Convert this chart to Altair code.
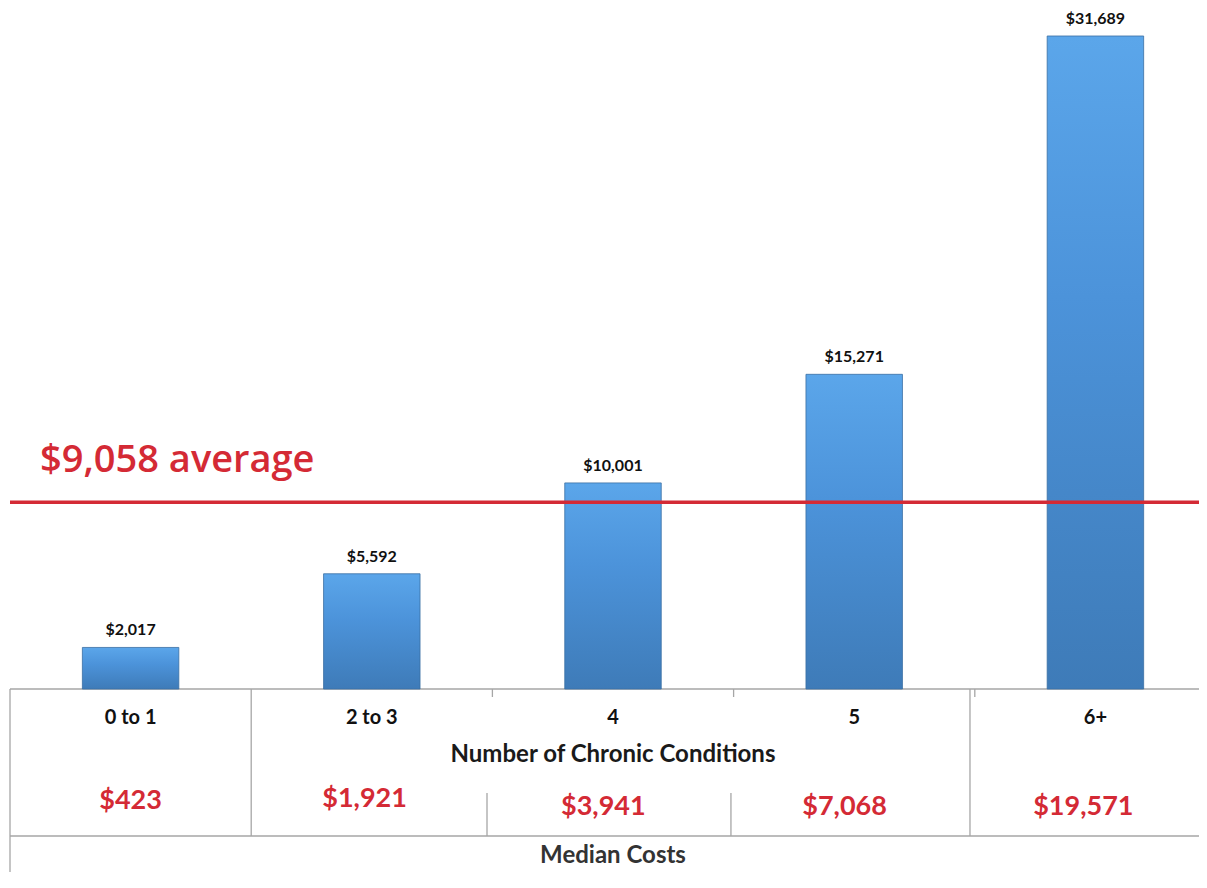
import altair as alt
import pandas as pd

# ---- data ----
categories = ["0 to 1", "2 to 3", "4", "5", "6+"]
mean_costs = [2017, 5592, 10001, 15271, 31689]
median_costs = [423, 1921, 3941, 7068, 19571]
average_cost = 9058
x_title = "Number of Chronic Conditions"
row_title = "Median Costs"
average_label = "$9,058 average"

# ---- layout / style ----
W, H = 1191, 864
RED = "#d42a35"
GRID = "#a6a6a6"
FONT = "Lato"
median_dx = [0.0, -0.03, -0.04, -0.04, -0.05]
median_y = [793, 791, 799, 799, 799]

df = pd.DataFrame({
    "idx": list(range(len(categories))),
    "cat": categories,
    "cost": mean_costs,
    "median": median_costs,
})
df["cost_label"] = ["$" + f"{v:,}" for v in mean_costs]
df["median_label"] = ["$" + f"{v:,}" for v in median_costs]
df["mx"] = [i + d for i, d in zip(df["idx"], median_dx)]
df["my"] = median_y

xscale = alt.Scale(domain=[-0.5083, 4.4295], nice=False, zero=False)
yscale = alt.Scale(domain=[-8880, 33047], nice=False, zero=False)

base = alt.Chart(df)

grad = alt.Gradient(
    gradient="linear",
    stops=[alt.GradientStop(color="#5ba6ea", offset=0),
           alt.GradientStop(color="#4c93da", offset=0.4),
           alt.GradientStop(color="#3e7bb8", offset=1)],
    x1=0, x2=0, y1=0, y2=1,
)

bars = base.transform_calculate(
    x0="datum.idx - 0.2", x1="datum.idx + 0.2", zero="0"
).mark_bar(color=grad, stroke="#3a6ea3", strokeWidth=0.8).encode(
    x=alt.X("x0:Q", scale=xscale, axis=None),
    x2="x1:Q",
    y=alt.Y("cost:Q", scale=yscale, axis=None),
    y2="zero:Q",
)

bar_labels = base.mark_text(
    baseline="alphabetic", dy=-12, fontSize=16, fontWeight="bold", font=FONT, color="#111111"
).encode(
    x=alt.X("idx:Q", scale=xscale, axis=None),
    y=alt.Y("cost:Q", scale=yscale, axis=None),
    text="cost_label:N",
)

cat_labels = base.mark_text(
    baseline="middle", fontSize=20, fontWeight="bold", font=FONT, color="#111111"
).encode(
    x=alt.X("idx:Q", scale=xscale, axis=None),
    y=alt.value(710),
    text="cat:N",
)

median_labels = base.mark_text(
    baseline="middle", fontSize=27, fontWeight="bold", font=FONT, color=RED
).encode(
    x=alt.X("mx:Q", scale=xscale, axis=None),
    y=alt.Y("my:Q", scale=None),
    text="median_label:N",
)

hrules_df = pd.DataFrame({"x": [-0.5, -0.5], "x2": [4.6, 4.6], "y": [681, 828]})
hrules = alt.Chart(hrules_df).mark_rule(color=GRID, strokeWidth=1.3, clip=True).encode(
    x=alt.X("x:Q", scale=xscale, axis=None),
    x2="x2:Q",
    y=alt.Y("y:Q", scale=None),
)

vrules_df = pd.DataFrame({
    "x": [-0.5, 0.5, 1.5, 2.5, 3.5, 1.4776, 2.489, 3.48],
    "y": [681, 681, 681, 681, 681, 785, 785, 681],
    "y2": [864, 828, 689, 689, 689, 828, 828, 828],
})
vrules = alt.Chart(vrules_df).mark_rule(color=GRID, strokeWidth=1.3).encode(
    x=alt.X("x:Q", scale=xscale, axis=None),
    y=alt.Y("y:Q", scale=None),
    y2="y2:Q",
)

avg_df = pd.DataFrame({"x": [-0.5], "x2": [4.6], "avg": [average_cost], "label": [average_label]})
avg_line = alt.Chart(avg_df).mark_rule(color=RED, strokeWidth=3.5, clip=True).encode(
    x=alt.X("x:Q", scale=xscale, axis=None),
    x2="x2:Q",
    y=alt.Y("avg:Q", scale=yscale, axis=None),
)
avg_text = alt.Chart(avg_df).mark_text(
    align="left", baseline="middle", fontSize=38, fontWeight=600, font="Open Sans",
    color=RED,
).encode(
    x=alt.value(32),
    y=alt.value(453),
    text="label:N",
)

title_df = pd.DataFrame({"t": [x_title], "r": [row_title]})
x_title_text = alt.Chart(title_df).mark_text(
    baseline="middle", fontSize=24, fontWeight="bold", font=FONT, color="#1a1a1a"
).encode(x=alt.value(605), y=alt.value(747), text="t:N")
row_title_text = alt.Chart(title_df).mark_text(
    baseline="middle", fontSize=24, fontWeight="bold", font=FONT, color="#333333"
).encode(x=alt.value(605), y=alt.value(848), text="r:N")

chart = alt.layer(
    hrules, vrules, bars, avg_line, bar_labels, cat_labels, median_labels,
    avg_text, x_title_text, row_title_text,
).properties(
    width=W, height=H, padding=0, autosize="none"
).configure_view(stroke=None)

chart.save("out.html", embed_options={"renderer": "svg", "actions": False})
